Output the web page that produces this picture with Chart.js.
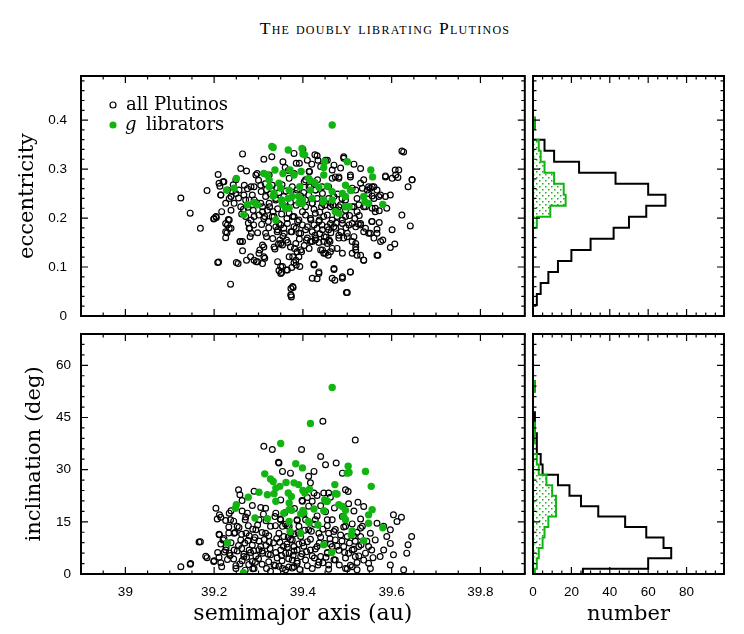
<!DOCTYPE html>
<html lang="en">
<head>
<meta charset="UTF-8" />
<title>The doubly librating Plutinos</title>
<style>
  body { margin: 0; background: #fff; }
  .page { position: relative; width: 744px; height: 634px; }
  .page canvas { position: absolute; }
  .title {
    position: absolute; left: 13px; top: 18px; width: 744px; text-align: center;
    font-family: "Liberation Serif", serif; font-size: 17.5px; font-variant: small-caps;
    letter-spacing: 1.3px; color: #000;
  }
</style>
</head>
<body>
<div class="page">
  <div class="title">The doubly librating Plutinos</div>
  <canvas id="eccScatter" width="530" height="262" style="left:0;top:60px"></canvas>
  <canvas id="eccHist" width="203" height="262" style="left:527px;top:60px"></canvas>
  <canvas id="incScatter" width="530" height="312" style="left:0;top:322px"></canvas>
  <canvas id="incHist" width="203" height="312" style="left:527px;top:322px"></canvas>
</div>
<script src="https://cdn.jsdelivr.net/npm/chart.js@4"></script>
<script>
// tick labels
const aTicks = [39, 39.2, 39.4, 39.6, 39.8];
const eccTicks = [0, 0.1, 0.2, 0.3, 0.4];
const incTicks = [0, 15, 30, 45, 60];
const numTicks = [0, 20, 40, 60, 80];

// histograms (counts per bin, from the bottom bin up)
const eccBinStart = 0, eccBinWidth = 0.0225;
const eccCountAll = [0, 2, 4, 8, 13, 20, 30, 42, 50, 59, 69, 60, 43, 24, 11, 6, 0, 1];
const eccCountLib = [0, 0, 0, 0, 0, 0, 0, 0, 2, 9, 17, 16, 11, 6, 4, 3, 0, 1];
const incBinStart = -1.5, incBinWidth = 3;
const incCountAll = [26, 60, 72, 68, 59, 48, 34, 25, 19, 13, 5, 4, 2, 2, 1, 1, 0, 0, 1];
const incCountLib = [1, 2, 3, 5, 6, 8, 12, 12, 10, 7, 3, 2, 0, 1, 1, 0, 0, 0, 1];

// all Plutinos: [semimajor axis, eccentricity]
const allEcc = [
[39.125,0.241],[39.146,0.210],[39.169,0.179],[39.184,0.256],[39.199,0.198],[39.205,0.201],
[39.209,0.289],[39.210,0.110],[39.213,0.265],[39.215,0.247],[39.217,0.213],[39.220,0.274],[39.226,0.189],[39.232,0.197],[39.234,0.179],[39.229,0.170],[39.226,0.160],[39.237,0.065],[39.241,0.254],[39.234,0.240],[39.245,0.230],[39.249,0.278],[39.250,0.109],
[39.258,0.152],[39.264,0.133],[39.264,0.331],[39.260,0.301],[39.273,0.296],[39.275,0.260],[39.267,0.247],[39.262,0.208],[39.271,0.203],[39.280,0.179],[39.277,0.190],[39.284,0.169],[39.288,0.216],[39.290,0.264],[39.294,0.288],[39.297,0.291],[39.273,0.114],[39.282,0.121],[39.290,0.114],[39.295,0.111],[39.286,0.247],[39.279,0.237],[39.296,0.231],
[39.303,0.135],[39.309,0.145],[39.314,0.118],[39.316,0.169],[39.318,0.162],[39.312,0.320],[39.330,0.325],[39.324,0.288],[39.331,0.267],[39.306,0.254],[39.316,0.244],[39.325,0.223],[39.333,0.213],[39.322,0.193],[39.339,0.182],[39.342,0.172],[39.335,0.203],[39.346,0.189],[39.348,0.155],[39.345,0.147],[39.350,0.101],[39.346,0.093],[39.352,0.089],[39.337,0.137],[39.309,0.213],[39.314,0.203],[39.305,0.230],[39.339,0.237],[39.346,0.252],
[39.360,0.303],[39.367,0.297],[39.380,0.332],[39.369,0.281],[39.376,0.264],[39.387,0.257],[39.357,0.244],[39.361,0.223],[39.369,0.210],[39.380,0.203],[39.391,0.196],[39.399,0.213],[39.357,0.179],[39.365,0.189],[39.375,0.172],[39.385,0.179],[39.395,0.169],[39.354,0.145],[39.363,0.155],[39.372,0.141],[39.381,0.138],[39.387,0.131],[39.397,0.131],[39.391,0.121],[39.384,0.114],[39.380,0.109],[39.375,0.099],[39.385,0.104],[39.393,0.101],[39.378,0.058],[39.374,0.039],[39.363,0.094],[39.369,0.121],
[39.400,0.340],[39.410,0.318],[39.415,0.295],[39.427,0.329],[39.432,0.327],[39.434,0.318],[39.406,0.278],[39.417,0.264],[39.428,0.257],[39.440,0.305],[39.443,0.264],[39.406,0.237],[39.421,0.230],[39.432,0.240],[39.442,0.223],[39.406,0.206],[39.417,0.199],[39.428,0.210],[39.437,0.196],[39.447,0.203],[39.410,0.182],[39.421,0.172],[39.432,0.179],[39.443,0.186],[39.408,0.155],[39.417,0.152],[39.428,0.155],[39.436,0.150],[39.447,0.152],[39.425,0.106],[39.436,0.090],[39.421,0.077],[39.432,0.076],[39.440,0.135],[39.447,0.128],
[39.455,0.318],[39.466,0.298],[39.473,0.284],[39.481,0.281],[39.492,0.322],[39.458,0.264],[39.470,0.244],[39.463,0.230],[39.481,0.223],[39.496,0.237],[39.455,0.206],[39.466,0.196],[39.477,0.203],[39.489,0.189],[39.496,0.203],[39.458,0.176],[39.470,0.182],[39.481,0.165],[39.492,0.159],[39.500,0.169],[39.455,0.148],[39.461,0.152],[39.466,0.138],[39.477,0.138],[39.489,0.128],[39.457,0.124],[39.470,0.095],[39.472,0.073],[39.489,0.077],[39.498,0.048],[39.507,0.090],
[39.507,0.288],[39.530,0.301],[39.511,0.261],[39.522,0.240],[39.534,0.261],[39.548,0.264],[39.511,0.223],[39.522,0.213],[39.537,0.223],[39.511,0.189],[39.525,0.188],[39.537,0.172],[39.548,0.169],[39.511,0.152],[39.519,0.141],[39.522,0.124],[39.537,0.114],[39.515,0.162],[39.555,0.193],[39.563,0.213],[39.567,0.169],[39.567,0.124],
[39.537,0.278],[39.552,0.261],[39.560,0.264],[39.567,0.257],[39.548,0.250],[39.556,0.245],[39.575,0.247],[39.586,0.244],[39.597,0.247],[39.608,0.298],[39.586,0.286],[39.601,0.281],[39.614,0.283],[39.623,0.337],[39.637,0.264],[39.646,0.278],[39.541,0.223],[39.563,0.220],[39.572,0.215],[39.589,0.220],[39.623,0.206],[39.642,0.184],[39.530,0.189],[39.541,0.179],[39.556,0.193],[39.572,0.191],[39.552,0.169],[39.567,0.177],[39.601,0.176],[39.560,0.159],[39.575,0.152],[39.580,0.155],[39.597,0.140],[39.607,0.147],[39.530,0.124],[39.537,0.114],[39.569,0.124],
[39.377,0.203],[39.388,0.193],[39.380,0.182],[39.399,0.186],[39.373,0.172],[39.391,0.169],[39.406,0.176],[39.418,0.196],[39.425,0.186],[39.436,0.193],[39.444,0.176],[39.455,0.182],[39.462,0.189],[39.474,0.179],[39.489,0.196],[39.504,0.186],[39.519,0.182],[39.530,0.186],[39.410,0.159],[39.421,0.152],[39.429,0.159],[39.448,0.162],[39.459,0.155],[39.481,0.159],[39.500,0.162],[39.519,0.148],[39.384,0.148],[39.395,0.135],[39.377,0.121],[39.444,0.135],[39.451,0.128],[39.462,0.131],[39.519,0.135],[39.511,0.128],[39.425,0.104],[39.436,0.087],[39.470,0.097],[39.489,0.080],[39.507,0.090],[39.466,0.077],[39.377,0.060],[39.500,0.048],[39.373,0.043],
[39.395,0.230],[39.406,0.223],[39.421,0.230],[39.444,0.230],[39.462,0.223],[39.474,0.216],[39.485,0.227],[39.496,0.216],[39.515,0.223],[39.526,0.227],[39.556,0.220],[39.560,0.240],[39.571,0.244],[39.545,0.257],[39.556,0.264],[39.530,0.271],[39.519,0.257],[39.414,0.264],[39.429,0.257],[39.444,0.250],[39.384,0.250],[39.403,0.274],[39.433,0.278],[39.466,0.281],[39.481,0.284],[39.507,0.284],[39.492,0.325],[39.451,0.318],[39.414,0.295],[39.392,0.312],[39.380,0.291],[39.586,0.284],[39.609,0.288],[39.616,0.298],[39.627,0.335],[39.646,0.278],
[39.211,0.271],[39.222,0.274],[39.230,0.257],[39.215,0.247],[39.238,0.244],[39.249,0.250],[39.256,0.257],[39.268,0.267],[39.283,0.264],[39.305,0.267],[39.271,0.237],[39.286,0.227],[39.260,0.223],[39.238,0.216],[39.226,0.230],[39.204,0.203],[39.200,0.199],[39.234,0.196],[39.230,0.186],[39.226,0.172],[39.238,0.179],[39.264,0.152],[39.279,0.179],[39.283,0.196],[39.290,0.203],[39.301,0.206],[39.312,0.199],[39.320,0.216],[39.309,0.223],[39.331,0.203],[39.350,0.186],[39.343,0.176],[39.358,0.169],[39.350,0.148],[39.335,0.141],[39.312,0.141],[39.301,0.128],[39.312,0.121],[39.298,0.111],[39.309,0.107],[39.343,0.111],[39.354,0.101],[39.350,0.087],[39.365,0.094],[39.373,0.056],[39.373,0.043],[39.208,0.109],[39.254,0.107],[39.259,0.152],[39.281,0.162],[39.324,0.230],[39.339,0.240],[39.290,0.237],
[39.318,0.258],[39.327,0.249],[39.341,0.262],[39.353,0.268],[39.362,0.255],[39.372,0.232],[39.385,0.226],[39.395,0.245],[39.402,0.252],[39.413,0.247],[39.425,0.218],[39.438,0.212],[39.449,0.226],[39.458,0.240],[39.468,0.226],[39.478,0.249],[39.488,0.240],[39.352,0.208],[39.364,0.199],[39.343,0.219],[39.323,0.180],[39.332,0.158],[39.355,0.163],[39.366,0.150],[39.392,0.157],[39.403,0.144],[39.414,0.138],[39.427,0.165],[39.438,0.168],[39.452,0.161],[39.463,0.170],[39.475,0.190],[39.486,0.172],[39.497,0.180],[39.505,0.205],[39.517,0.199],[39.527,0.205],[39.289,0.186],[39.298,0.170],[39.307,0.187],[39.276,0.222],[39.266,0.218],[39.255,0.241],[39.243,0.268],[39.300,0.277],[39.315,0.270],[39.355,0.315],[39.385,0.312],[39.420,0.310],[39.470,0.308],[39.485,0.302],[39.515,0.310]
];

// g librators: [semimajor axis, eccentricity]
const libEcc = [
[39.466,0.390],[39.330,0.346],[39.333,0.344],[39.367,0.339],[39.398,0.342],[39.400,0.331],[39.404,0.329],[39.449,0.315],[39.500,0.315],[39.553,0.298],[39.557,0.284],
[39.250,0.281],[39.312,0.291],[39.320,0.288],[39.337,0.298],[39.324,0.278],[39.355,0.291],[39.371,0.298],[39.380,0.288],[39.396,0.295],[39.413,0.281],[39.417,0.276],[39.427,0.272],[39.447,0.303],[39.447,0.288],[39.455,0.265],[39.496,0.267],[39.507,0.257],
[39.228,0.257],[39.245,0.261],[39.324,0.264],[39.346,0.271],[39.350,0.261],[39.369,0.257],[39.393,0.264],[39.417,0.257],[39.436,0.263],[39.466,0.254],[39.489,0.250],[39.496,0.244],[39.509,0.256],
[39.335,0.250],[39.333,0.245],[39.352,0.237],[39.367,0.240],[39.376,0.244],[39.391,0.244],[39.399,0.237],[39.391,0.231],[39.421,0.240],[39.447,0.237],[39.466,0.237],[39.537,0.244],[39.540,0.233],[39.548,0.230],
[39.275,0.227],[39.290,0.232],[39.297,0.227],[39.354,0.228],[39.361,0.220],[39.445,0.233],[39.473,0.213],[39.481,0.210],[39.496,0.223],[39.504,0.223],[39.267,0.207],[39.339,0.196],[39.369,0.220],[39.399,0.230],[39.580,0.228]
];

// all Plutinos: [semimajor axis, inclination]
const allInc = [
[39.125,2.1],[39.146,2.8],[39.169,9.3],[39.184,4.7],[39.204,18.9],[39.207,15.8],[39.212,17.0],[39.199,3.6],[39.211,4.8],[39.217,2.1],[39.211,11.4],[39.220,9.8],[39.234,17.5],[39.237,15.6],[39.226,6.9],[39.234,6.0],[39.245,6.9],[39.249,1.6],[39.255,24.2],[39.258,22.8],[39.245,11.7],[39.252,13.7],[39.260,9.8],[39.270,15.6],[39.275,17.5],[39.272,11.7],[39.279,6.9],[39.267,5.0],[39.286,3.6],[39.290,1.6],[39.290,23.8],[39.294,12.7],[39.290,9.8],[39.301,15.6],[39.305,7.9],[39.312,36.7],[39.331,35.8],[39.316,18.9],[39.309,6.0],[39.316,11.7],[39.327,13.7],[39.324,9.3],[39.327,5.5],[39.335,2.6],[39.339,17.5],[39.346,31.9],[39.354,29.5],[39.372,29.0],[39.350,21.3],[39.350,15.6],[39.354,13.7],[39.346,11.7],[39.357,10.8],[39.350,6.9],[39.361,6.0],[39.354,1.6],[39.369,13.7],[39.372,11.7],[39.376,9.8],[39.380,7.9],[39.369,6.0],[39.376,4.0],[39.380,2.1],[39.387,15.6],[39.391,13.7],[39.395,10.8],[39.387,6.9],[39.395,5.0],[39.387,3.1],[39.397,35.8],[39.399,20.9],[39.413,28.1],[39.417,26.2],[39.425,29.5],[39.425,23.3],[39.421,20.9],[39.406,15.6],[39.413,12.7],[39.410,9.3],[39.417,6.9],[39.406,4.0],[39.421,1.6],[39.428,15.6],[39.436,11.7],[39.432,7.9],[39.440,5.0],[39.434,2.6],[39.445,43.9],[39.440,33.8],[39.447,23.3],[39.451,31.4],[39.458,23.3],[39.455,15.6],[39.458,11.7],[39.449,8.8],[39.455,6.0],[39.458,2.6],[39.466,15.6],[39.470,12.2],[39.473,9.8],[39.466,7.9],[39.473,4.0],[39.475,31.9],[39.489,29.0],[39.496,24.2],[39.502,23.7],[39.518,38.5],[39.524,20.6],[39.489,16.5],[39.496,13.7],[39.500,10.8],[39.492,7.9],[39.503,6.0],[39.496,1.6],[39.511,6.9],[39.518,5.0],[39.526,7.9],[39.534,13.7],[39.530,10.8],[39.541,6.0],[39.548,3.1],[39.555,6.9],[39.563,9.8],[39.567,14.6],[39.511,2.1],[39.522,1.2],
[39.604,17.0],[39.622,16.3],[39.612,15.1],[39.645,10.8],[39.637,8.4],[39.634,6.0],[39.597,12.7],[39.582,13.7],[39.589,10.8],[39.597,8.8],[39.582,6.9],[39.574,5.0],[39.604,5.5],[39.597,2.6],[39.627,1.2],[39.552,11.7],[39.548,7.9],[39.537,4.0],[39.552,1.6],[39.530,13.2],
[39.345,32.1],[39.215,16.3],[39.238,18.2],[39.244,15.2],[39.263,18.1],[39.271,16.4],[39.256,13.4],[39.277,13.9],[39.287,12.9],[39.298,14.1],[39.305,19.1],[39.317,15.3],[39.212,11.3],[39.222,10.2],[39.233,11.8],[39.247,11.9],[39.262,11.4],[39.279,11.0],[39.292,10.5],[39.308,11.9],[39.323,11.0],[39.338,13.9],[39.349,15.8],[39.361,14.3],[39.215,8.6],[39.227,7.7],[39.238,9.0],[39.255,8.2],[39.269,8.9],[39.286,8.3],[39.301,9.5],[39.317,8.2],[39.334,9.0],[39.348,9.1],[39.364,8.6],[39.208,6.2],[39.223,6.3],[39.236,5.3],[39.252,6.6],[39.267,5.7],[39.282,6.2],[39.294,5.2],[39.308,6.6],[39.322,5.7],[39.339,6.2],[39.352,5.3],[39.200,3.8],[39.215,3.2],[39.230,4.2],[39.249,2.4],[39.263,3.8],[39.278,2.7],[39.293,3.4],[39.308,2.8],[39.323,3.5],[39.338,2.4],[39.353,3.8],[39.368,2.0],[39.181,5.1],[39.166,9.2],[39.147,3.0],[39.226,15.4],[39.233,13.5],[39.301,7.0],[39.270,1.1],[39.327,0.8],[39.346,2.2],
[39.365,13.9],[39.380,11.5],[39.372,9.9],[39.391,8.6],[39.365,7.7],[39.380,6.6],[39.398,5.8],[39.368,4.4],[39.387,3.7],[39.410,2.4],[39.376,1.7],[39.402,8.0],[39.417,10.0],[39.428,7.2],[39.440,10.6],[39.421,5.2],[39.436,3.4],[39.455,6.2],[39.462,8.6],[39.470,4.1],[39.458,1.4],[39.481,6.8],[39.488,9.5],[39.496,4.6],[39.507,2.5],[39.515,7.1],[39.526,5.2],[39.500,1.5],[39.473,12.8],[39.455,13.9],[39.492,13.5],[39.511,14.4],[39.530,15.8],[39.522,12.0],[39.432,16.7],[39.451,17.9],[39.402,17.2],[39.387,15.4],[39.413,19.5],[39.432,22.6],[39.462,22.1],[39.398,21.1],[39.503,20.2],[39.537,19.4],[39.515,18.1],
[39.262,7.3],[39.276,9.6],[39.289,6.7],[39.300,4.4],[39.313,9.9],[39.326,7.3],[39.341,10.2],[39.356,8.0],[39.367,10.6],[39.378,5.4],[39.389,11.9],[39.399,9.0],[39.408,6.4],[39.419,12.3],[39.426,4.6],[39.437,8.9],[39.445,12.9],[39.452,4.8],[39.461,10.1],[39.477,8.0],[39.485,11.2],[39.494,6.2],[39.505,8.9],[39.514,11.0],[39.522,3.3],[39.531,8.4],[39.544,9.4],[39.558,4.7],[39.244,4.3],[39.258,2.9],[39.273,4.8],[39.287,1.5],[39.318,1.6],[39.342,4.6],[39.361,1.2],[39.393,1.3],[39.404,12.6],[39.426,14.3],[39.445,3.2],[39.482,2.6],[39.518,9.4],[39.337,16.5],[39.359,17.6],[39.381,18.8],[39.311,17.2],[39.286,19.7],[39.263,21.1],[39.410,22.0],[39.471,19.0],[39.440,19.6]
];

// g librators: [semimajor axis, inclination]
const libInc = [
[39.466,53.6],[39.417,43.3],[39.350,37.5],[39.384,31.7],[39.399,30.5],[39.314,28.8],[39.502,31.0],[39.504,29.2],[39.500,29.0],[39.541,29.5],[39.554,25.2],
[39.327,27.3],[39.333,26.6],[39.362,26.3],[39.380,26.2],[39.390,25.7],[39.301,23.5],[39.320,22.8],[39.335,23.1],[39.339,24.7],[39.348,25.2],[39.367,23.3],[39.374,22.3],[39.400,24.0],[39.404,23.3],[39.415,24.4],[39.472,25.7],[39.473,23.1],
[39.277,22.1],[39.250,19.9],[39.248,18.9],[39.339,20.9],[39.369,20.4],[39.449,21.3],[39.453,20.9],[39.481,19.9],[39.489,19.4],[39.496,18.3],[39.357,17.5],[39.369,18.5],[39.375,18.3],[39.400,18.3],[39.402,17.7],[39.425,18.7],[39.447,18.2],
[39.292,16.1],[39.320,15.9],[39.369,15.1],[39.395,17.3],[39.412,15.1],[39.492,16.5],[39.496,15.6],[39.434,14.1],[39.395,11.7],[39.511,12.4],[39.509,11.2],[39.537,9.6],[39.447,8.4],[39.230,9.0],[39.465,6.2],[39.266,0.4],
[39.371,12.2],[39.414,14.8],[39.548,17.0],[39.556,18.5],[39.548,14.6],[39.580,13.3],[39.477,23.0],[39.455,20.9]
];

const ink = '#000';
const green = '#12b412';
const tickFont = { family: '"Liberation Sans", Arial, sans-serif', size: 13.5 };
const titleFont = { family: '"DejaVu Serif", serif', size: 21 };
const wideTitleFont = { family: '"DejaVu Serif", serif', size: 22 };

function toPoints(list) {
  return list.map(p => ({ x: p[0], y: p[1] }));
}

// outline of a histogram lying on its side: counts along x, bins along y
function stepOutline(start, width, counts) {
  const pts = [{ x: 0, y: start }];
  counts.forEach((c, k) => {
    pts.push({ x: c, y: start + k * width });
    pts.push({ x: c, y: start + (k + 1) * width });
  });
  pts.push({ x: 0, y: start + counts.length * width });
  return pts;
}

function dotPattern(color) {
  const c = document.createElement('canvas');
  c.width = 6; c.height = 6;
  const g = c.getContext('2d');
  g.fillStyle = color;
  g.fillRect(0, 0, 1.5, 1.5);
  g.fillRect(3, 3, 1.5, 1.5);
  return g.createPattern(c, 'repeat');
}

// box frame with inward ticks on all four sides
const frameTicks = {
  id: 'frameTicks',
  afterDraw(chart, args, o) {
    const { ctx, chartArea: a } = chart;
    const { x, y } = chart.scales;
    const eachTick = (scale, minor, major, draw) => {
      const n0 = Math.ceil(scale.min / minor - 1e-6), n1 = Math.floor(scale.max / minor + 1e-6);
      for (let n = n0; n <= n1; n++) {
        const v = n * minor, r = v / major;
        draw(scale.getPixelForValue(v), Math.abs(r - Math.round(r)) < 1e-6 ? 7 : 3.5);
      }
    };
    ctx.save();
    ctx.strokeStyle = ink;
    ctx.lineWidth = 1.2;
    ctx.beginPath();
    eachTick(x, o.xMinor, o.xMajor, (p, len) => {
      ctx.moveTo(p, a.top); ctx.lineTo(p, a.top + len);
      ctx.moveTo(p, a.bottom); ctx.lineTo(p, a.bottom - len);
    });
    eachTick(y, o.yMinor, o.yMajor, (p, len) => {
      ctx.moveTo(a.left, p); ctx.lineTo(a.left + len, p);
      ctx.moveTo(a.right, p); ctx.lineTo(a.right - len, p);
    });
    ctx.stroke();
    ctx.lineWidth = 2;
    ctx.strokeRect(a.left, a.top, a.right - a.left, a.bottom - a.top);
    ctx.restore();
  }
};

const legendBox = {
  id: 'legendBox',
  afterDraw(chart) {
    const { ctx, chartArea: a } = chart;
    const x = a.left + 32, y1 = a.top + 29, y2 = a.top + 49;
    ctx.save();
    ctx.beginPath();
    ctx.arc(x, y1, 3, 0, 2 * Math.PI);
    ctx.lineWidth = 1.2; ctx.strokeStyle = ink; ctx.stroke();
    ctx.beginPath();
    ctx.arc(x, y2, 3.6, 0, 2 * Math.PI);
    ctx.fillStyle = green; ctx.fill();
    ctx.fillStyle = ink;
    ctx.textBaseline = 'middle';
    ctx.font = '18px "DejaVu Serif", serif';
    ctx.fillText('all Plutinos', a.left + 45, y1);
    ctx.font = 'italic 18px "DejaVu Serif", serif';
    ctx.fillText('g', a.left + 44, y2);
    ctx.font = '18px "DejaVu Serif", serif';
    ctx.fillText('librators', a.left + 65, y2);
    ctx.restore();
  }
};

// fixed axis box size, no extra room for overhanging labels
function fitTo(size, horizontal) {
  return s => {
    if (horizontal) s.height = size; else s.width = size;
    s.paddingTop = s.paddingBottom = s.paddingLeft = s.paddingRight = 0;
  };
}

function plainAxis(min, max, fitSize, horizontal) {
  return {
    type: 'linear', min: min, max: max,
    grid: { display: false, drawTicks: false }, border: { display: false },
    ticks: { display: false },
    afterFit: fitTo(fitSize, horizontal)
  };
}

function labelledAxis(min, max, fitSize, horizontal, tickValues, pad, title, titlePad, font) {
  return {
    type: 'linear', min: min, max: max,
    grid: { display: false, drawTicks: false }, border: { display: false },
    afterBuildTicks: s => { s.ticks = tickValues.map(v => ({ value: v })); },
    afterFit: fitTo(fitSize, horizontal),
    ticks: { font: tickFont, color: ink, padding: pad, autoSkip: false, maxRotation: 0, callback: v => String(v) },
    title: { display: true, text: title, font: font || titleFont, color: ink, padding: titlePad }
  };
}

function baseOptions(padding, scales, frame) {
  return {
    responsive: false, animation: false, events: [],
    layout: { padding: padding },
    scales: scales,
    plugins: { legend: { display: false }, tooltip: { enabled: false }, frameTicks: frame }
  };
}

function scatterSets(all, lib) {
  return [
    { data: toPoints(lib), order: 0, pointRadius: 3.7, pointBackgroundColor: green, pointBorderColor: green, pointBorderWidth: 0 },
    { data: toPoints(all), order: 1, pointRadius: 2.9, pointBackgroundColor: 'rgba(0,0,0,0)', pointBorderColor: ink, pointBorderWidth: 1.2 }
  ];
}

function histSets(start, width, all, lib) {
  return [
    { data: stepOutline(start, width, lib), order: 0, showLine: true, pointRadius: 0, borderColor: green, borderWidth: 2,
      backgroundColor: dotPattern(green), fill: 'shape' },
    { data: stepOutline(start, width, all), order: 1, showLine: true, pointRadius: 0, borderColor: ink, borderWidth: 2, fill: false }
  ];
}

new Chart(document.getElementById('eccScatter'), {
  type: 'scatter',
  data: { datasets: scatterSets(allEcc, libEcc) },
  options: baseOptions({ top: 16, right: 4, left: 0, bottom: 0 }, {
    x: plainAxis(38.9, 39.9, 6, true),
    y: labelledAxis(0, 0.49, 81, false, eccTicks, 14, 'eccentricity', { top: 15, bottom: 0 })
  }, { xMinor: 0.05, xMajor: 0.2, yMinor: 0.02, yMajor: 0.1 }),
  plugins: [frameTicks, legendBox]
});

new Chart(document.getElementById('eccHist'), {
  type: 'scatter',
  data: { datasets: histSets(eccBinStart, eccBinWidth, eccCountAll, eccCountLib) },
  options: baseOptions({ top: 16, right: 6, left: 0, bottom: 0 }, {
    x: plainAxis(0, 99.5, 6, true),
    y: plainAxis(0, 0.49, 6, false)
  }, { xMinor: 5, xMajor: 20, yMinor: 0.02, yMajor: 0.1 }),
  plugins: [frameTicks]
});

new Chart(document.getElementById('incScatter'), {
  type: 'scatter',
  data: { datasets: scatterSets(allInc, libInc) },
  options: baseOptions({ top: 12, right: 4, left: 0, bottom: 0 }, {
    x: labelledAxis(38.9, 39.9, 60, true, aTicks, 10, 'semimajor axis (au)', { top: 0, bottom: 7 }, wideTitleFont),
    y: labelledAxis(0, 69, 81, false, incTicks, 10, 'inclination (deg)', { top: 22, bottom: 0 })
  }, { xMinor: 0.05, xMajor: 0.2, yMinor: 3, yMajor: 15 }),
  plugins: [frameTicks]
});

new Chart(document.getElementById('incHist'), {
  type: 'scatter',
  data: { datasets: histSets(incBinStart, incBinWidth, incCountAll, incCountLib) },
  options: baseOptions({ top: 12, right: 6, left: 0, bottom: 0 }, {
    x: labelledAxis(0, 99.5, 60, true, numTicks, 10, 'number', { top: 0, bottom: 7 }),
    y: plainAxis(0, 69, 6, false)
  }, { xMinor: 5, xMajor: 20, yMinor: 3, yMajor: 15 }),
  plugins: [frameTicks]
});
</script>
</body>
</html>
